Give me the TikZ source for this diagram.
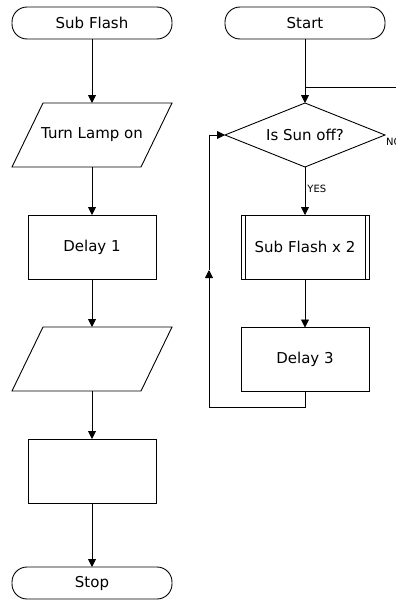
\documentclass[tikz,border=0pt]{standalone}
\usepackage{fontspec}
\setmainfont{DejaVu Sans}
\usetikzlibrary{shapes.geometric,arrows.meta}
\tikzset{
  base/.style={draw, line width=0.9pt, inner sep=0pt, outer sep=0pt, font=\fontsize{15}{17}\selectfont},
  term/.style={base, rectangle, rounded corners=15pt, minimum width=160pt, minimum height=32pt},
  proc/.style={base, rectangle, minimum width=128pt, minimum height=64pt},
  iobox/.style={base, draw=none, rectangle, minimum width=160pt, minimum height=64pt},
  dec/.style={base, diamond, minimum width=160pt, minimum height=64pt, aspect=2.5},
  conn/.style={line width=0.9pt, -{Triangle[length=8pt,width=8pt]}},
  plain/.style={line width=0.9pt},
  lbl/.style={font=\fontsize{10}{11}\selectfont, inner sep=0pt}
}
\newcommand{\parashape}[1]{%
  \draw[plain, line join=miter] ([xshift=31pt]#1.north west) -- (#1.north east) -- ([xshift=-31pt]#1.south east) -- (#1.south west) -- cycle;}
\begin{document}
\begin{tikzpicture}[x=1pt,y=-1pt]
\useasboundingbox (0,0) rectangle (396,600);
% left column
\node[term] (sf) at (92,23) {Sub Flash};
\node[iobox] (lamp) at (92,135) {Turn Lamp on};
\parashape{lamp}
\node[proc] (d1) at (92,247) {Delay 1};
\node[iobox] (io2) at (92,359) {};
\parashape{io2}
\node[proc] (p2) at (92,471) {};
\node[term] (stop) at (92,583) {Stop};
\draw[conn] (sf) -- (lamp);
\draw[conn] (lamp) -- (d1);
\draw[conn] (d1) -- (io2);
\draw[conn] (io2) -- (p2);
\draw[conn] (p2) -- (stop);
% right column
\node[term] (start) at (305,23) {Start};
\node[dec] (dia) at (305,135) {Is Sun off?};
\node[proc] (sub) at (305,247) {Sub Flash x 2};
\draw[plain] ([xshift=4pt]sub.north west) -- ([xshift=4pt]sub.south west);
\draw[plain] ([xshift=-4pt]sub.north east) -- ([xshift=-4pt]sub.south east);
\node[proc] (d3) at (305,359.5) {Delay 3};
\draw[conn] (start) -- (dia);
\coordinate (re) at (397,87);
\draw[plain] (re) -- (re -| dia.north);
\draw[conn] (dia) -- node[lbl, anchor=west, xshift=2pt, pos=0.45] {YES} (sub);
\draw[conn] (sub) -- (d3);
\node[lbl, anchor=north west] (no) at ([xshift=1pt,yshift=-3pt]dia.east) {NO};
% loop
\coordinate (lb) at (209,407);
\coordinate (lm) at (209,270);
\draw[plain] (d3.south) |- (lb);
\draw[conn] (lb) -- (lm);
\draw[conn] (lm) |- (dia.west);
\end{tikzpicture}
\end{document}
